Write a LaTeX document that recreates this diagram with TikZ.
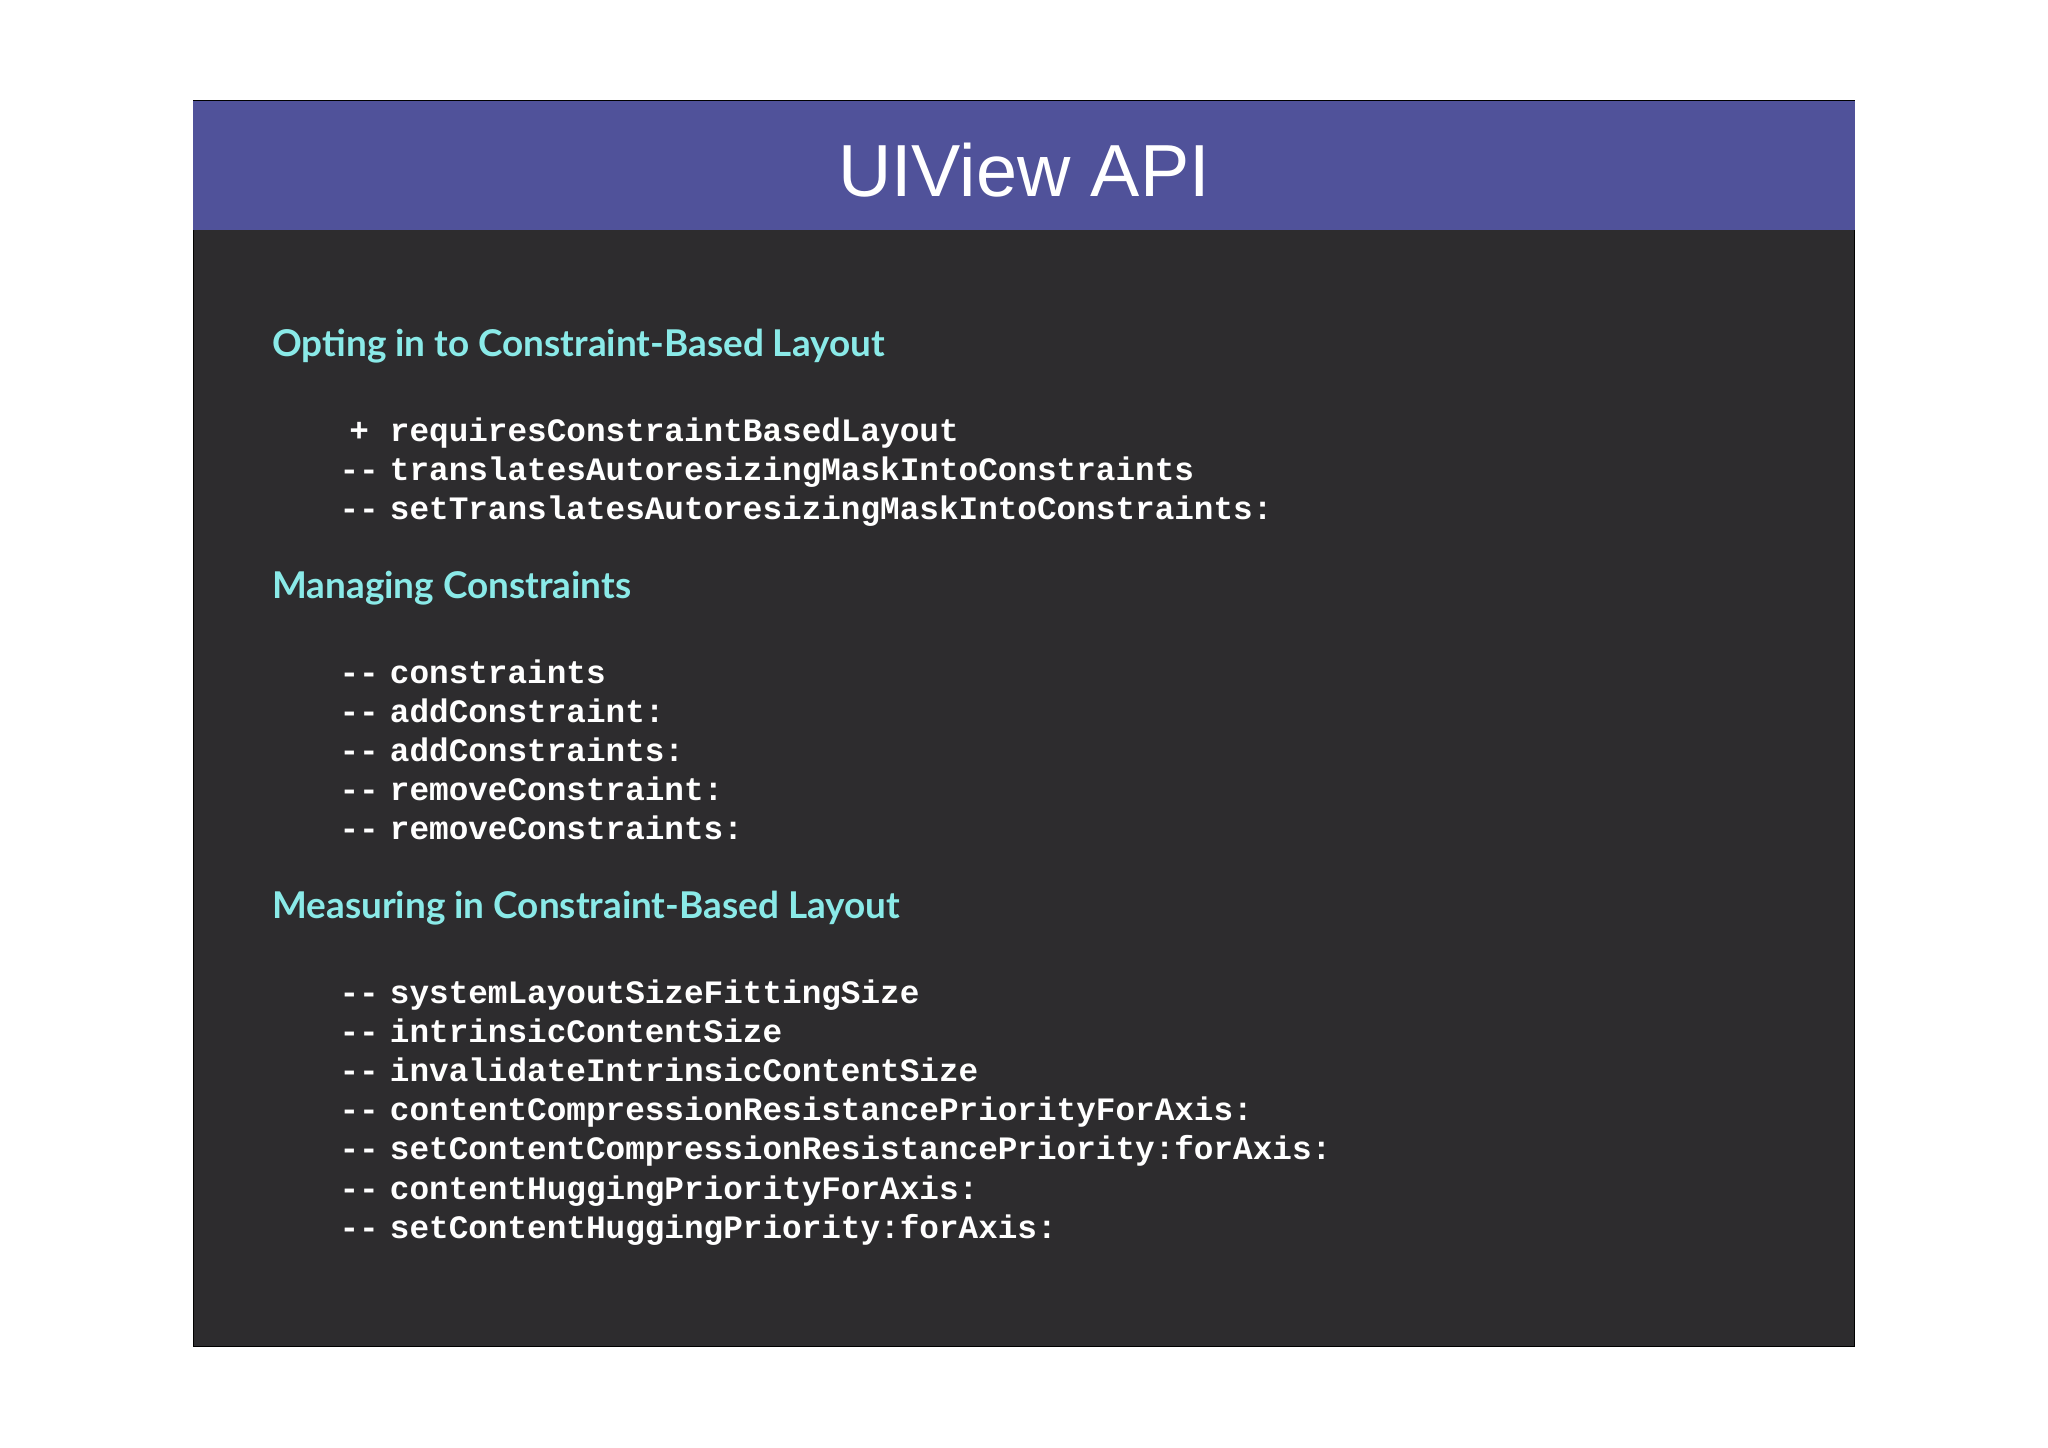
\documentclass[tikz,border=0pt]{standalone}
\usepackage{fontspec}
\setmainfont{Liberation Sans}
\newfontfamily\headfont{Lato}
\newfontfamily\codefont{Liberation Mono}
\definecolor{hdr}{HTML}{50529A}
\definecolor{bodybg}{HTML}{2D2C2E}
\definecolor{cyanh}{HTML}{8AEAE8}
\begin{document}
\begin{tikzpicture}[x=0.013061cm,y=-0.013061cm,
 sec/.style={anchor=base west,inner sep=0,text=cyanh,font=\headfont\bfseries\fontsize{10.5pt}{12pt}\selectfont},
 code/.style={anchor=base west,inner sep=0,text=white,font=\codefont\bfseries\fontsize{9.3pt}{11pt}\selectfont},
 bul/.style={anchor=base,inner sep=0,text=white,font=\codefont\bfseries\fontsize{9.3pt}{11pt}\selectfont}]
\useasboundingbox (0,0) rectangle (1568,1108);
\fill[white] (0,0) rectangle (1568,1108);
\fill[bodybg,draw=black] (148,77) rectangle (1420,1031);
\fill[hdr] (148,77) rectangle (1420,176);
\node[text=white,font=\fontsize{21pt}{24pt}\selectfont] (title) at (784,130) {UIView API};
\node[sec] (s1) at (208,273) {Opting in to Constraint-Based Layout};
\node[sec] (s2) at (208,458) {Managing Constraints};
\node[sec] (s3) at (208,703) {Measuring in Constraint-Based Layout};
\foreach \y/\m/\t [count=\i] in {
 338/+/requiresConstraintBasedLayout,
 368/--/translatesAutoresizingMaskIntoConstraints,
 398/--/setTranslatesAutoresizingMaskIntoConstraints:,
 523/--/constraints,
 553/--/addConstraint:,
 583/--/addConstraints:,
 613/--/removeConstraint:,
 643/--/removeConstraints:,
 768/--/systemLayoutSizeFittingSize,
 798/--/intrinsicContentSize,
 828/--/invalidateIntrinsicContentSize,
 858/--/contentCompressionResistancePriorityForAxis:,
 888/--/setContentCompressionResistancePriority:forAxis:,
 918/--/contentHuggingPriorityForAxis:,
 948/--/setContentHuggingPriority:forAxis:}{
 \node[bul] (m\i) at (275,\y) {\m};
 \node[code] (c\i) at (298,\y) {\t};
}
\end{tikzpicture}
\end{document}
